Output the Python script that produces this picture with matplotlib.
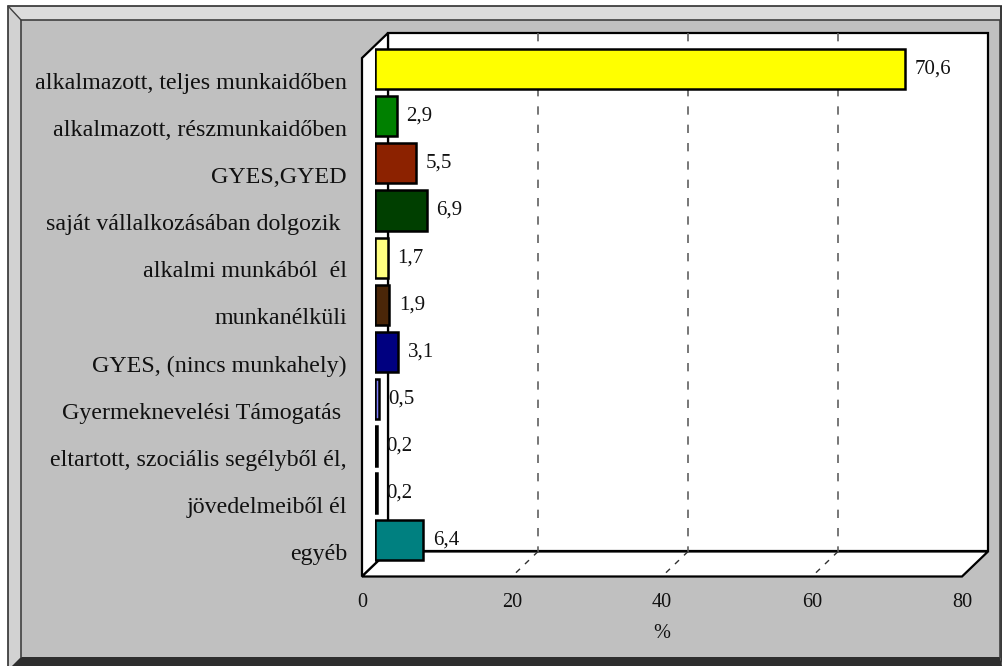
import matplotlib
matplotlib.use('Agg')
import matplotlib.pyplot as plt
from matplotlib.patches import Polygon, Rectangle
from matplotlib.transforms import ScaledTranslation
import numpy as np

plt.rcParams['font.family'] = ['Liberation Serif', 'DejaVu Serif']

# ---- data ----
categories = [
    'alkalmazott, teljes munkaidőben',
    'alkalmazott, részmunkaidőben',
    'GYES,GYED',
    'saját vállalkozásában dolgozik ',
    'alkalmi munkából  él',
    'munkanélküli',
    'GYES, (nincs munkahely)',
    'Gyermeknevelési Támogatás ',
    'eltartott, szociális segélyből él,',
    'jövedelmeiből él',
    'egyéb',
]
values = [70.6, 2.9, 5.5, 6.9, 1.7, 1.9, 3.1, 0.5, 0.2, 0.2, 6.4]
colors = ['#FFFF00', '#008000', '#8C2200', '#003F00', '#FFFF80', '#4A2608',
          '#000080', '#8080FF', '#000000', '#000000', '#008080']
x_ticks = [0, 20, 40, 60, 80]
x_label = '%'

W, H = 1002, 666
fig = plt.figure(figsize=(W / 100, H / 100), dpi=100, facecolor='white')

# ---- bevelled frame (pixel coordinates) ----
bg = fig.add_axes([0, 0, 1, 1])
bg.set_xlim(0, W)
bg.set_ylim(H, 0)
bg.axis('off')
bg.add_patch(Polygon([(8, 6), (1002, 6), (1002, 666), (8, 666)], closed=True,
                     fc='#C0C0C0', ec='none'))
bg.add_patch(Polygon([(8, 6), (1000, 6), (1000, 20), (21, 20)], closed=True,
                     fc='#DCDCDC', ec='none'))
bg.add_patch(Polygon([(8, 6), (21, 20), (21, 657), (12, 666), (8, 666)], closed=True,
                     fc='#D2D2D2', ec='none'))
bg.add_patch(Polygon([(21, 657), (1000, 657), (1002, 666), (12, 666)], closed=True,
                     fc='#2E2E2E', ec='none'))
bg.add_patch(Polygon([(1000, 6), (1002, 6), (1002, 666), (1000, 657)], closed=True,
                     fc='#3A3A3A', ec='none'))
bg.plot([8, 8, 1002], [666, 6, 6], color='#303030', lw=1.2)
bg.plot([21, 21, 1000, 1000], [657, 20, 20, 657], color='#404040', lw=1.2)
bg.plot([8, 21], [6, 20], color='#404040', lw=1.0)

# ---- chart axes (mid depth plane) ----
ax = fig.add_axes([375 / W, (H - 564) / H, 600 / W, 518.5 / H])
ax.set_xlim(0, 80)
ax.set_ylim(10.5, -0.5)
ax.patch.set_visible(False)
for s in ax.spines.values():
    s.set_visible(False)

DX = 13 * 80 / 600          # depth offset in data units (x)
DY = 12.5 * 11 / 518.5      # depth offset in data units (y)
n = len(categories)
y0, y1 = -0.5, n - 0.5

kw = dict(clip_on=False, lw=1.6, ec='black', fc='white')
ax.add_patch(Rectangle((DX, y0 - DY), 80, n, zorder=0, **kw))
ax.add_patch(Polygon([(-DX, y0 + DY), (DX, y0 - DY), (DX, y1 - DY), (-DX, y1 + DY)],
                     closed=True, zorder=0, **kw))
ax.add_patch(Polygon([(-DX, y1 + DY), (80 - DX, y1 + DY), (80 + DX, y1 - DY), (DX, y1 - DY)],
                     closed=True, zorder=0, **kw))

for t in x_ticks[1:-1]:
    ax.plot([t + DX, t + DX], [y0 - DY, y1 - DY], color='#606060', lw=1.2,
            dashes=(5, 6), zorder=1, clip_on=False)
    ax.plot([t + DX, t - DX], [y1 - DY, y1 + DY], color='#303030', lw=1.0,
            dashes=(4, 5), zorder=1, clip_on=False)

bars = ax.barh(np.arange(n), values, height=0.85, color=colors, edgecolor='black',
               linewidth=1.8, zorder=3)
ax.bar_label(bars, labels=[f'{v:.1f}'.replace('.', ',') for v in values],
             padding=7, fontsize=15, color='#111111')

# category labels (front plane)
ax.set_yticks(np.arange(n))
ax.set_yticklabels(categories, fontsize=17.3, color='#111111')
ax.tick_params(axis='y', length=0, pad=20.2)
off_y = ScaledTranslation(0, -0.117, fig.dpi_scale_trans)
for lab in ax.get_yticklabels():
    lab.set_transform(lab.get_transform() + off_y)

# x tick labels (front plane)
ax.set_xticks(x_ticks)
ax.set_xticklabels([str(t) for t in x_ticks], fontsize=14.6, color='#111111')
ax.tick_params(axis='x', length=0, pad=21.0)
off_x = ScaledTranslation(-0.13, 0, fig.dpi_scale_trans)
for lab in ax.get_xticklabels():
    lab.set_transform(lab.get_transform() + off_x)

ax.text(40, y1, x_label, fontsize=14.6, ha='center', va='center', color='#111111',
        transform=ax.transData + ScaledTranslation(-0.13, -0.70, fig.dpi_scale_trans))

fig.savefig('out.png', dpi=100, facecolor=fig.get_facecolor())
